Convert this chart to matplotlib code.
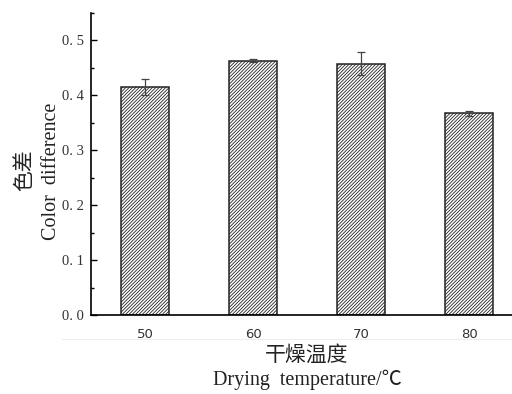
import matplotlib
import matplotlib.pyplot as plt
from matplotlib.ticker import MultipleLocator, FixedFormatter, FixedLocator

matplotlib.use("Agg")
plt.rcParams["hatch.color"] = "#5a5a5a"
plt.rcParams["hatch.linewidth"] = 0.6

# Color difference by drying temperature
temperatures = ["50", "60", "70", "80"]
color_diff = [0.415, 0.463, 0.458, 0.367]
color_err = [0.015, 0.003, 0.021, 0.004]
y_ticks = [0.0, 0.1, 0.2, 0.3, 0.4, 0.5]
y_tick_labels = ["0. 0", "0. 1", "0. 2", "0. 3", "0. 4", "0. 5"]

SERIF = ["Liberation Serif", "DejaVu Serif"]
CJK = ["Noto Sans CJK SC", "DejaVu Sans"]

fig = plt.figure(figsize=(5.12, 3.94), dpi=100)
ax = fig.add_axes([91 / 512, 1 - 315 / 394, 432 / 512, 302 / 394])

x = list(range(len(temperatures)))
ax.bar(
    x, color_diff, width=0.45, color="white", edgecolor="#222222",
    linewidth=1.1, hatch="//////////", zorder=2,
)
ax.errorbar(
    x, color_diff, yerr=color_err, fmt="none", ecolor="#444444",
    elinewidth=0.9, capsize=3, capthick=0.9, zorder=3,
)

ax.set_xlim(-0.5, 3.5)
ax.set_ylim(0, 0.55)
ax.spines["top"].set_visible(False)
ax.spines["right"].set_visible(False)
ax.spines["left"].set_linewidth(1.2)
ax.spines["bottom"].set_linewidth(1.2)

ax.xaxis.set_major_locator(FixedLocator(x))
ax.set_xticklabels(temperatures, fontsize=9.5, family="DejaVu Sans", color="#333333")
ax.yaxis.set_major_locator(FixedLocator(y_ticks))
ax.yaxis.set_major_formatter(FixedFormatter(y_tick_labels))
ax.yaxis.set_minor_locator(MultipleLocator(0.05))
ax.tick_params(axis="both", which="both", direction="in", width=1.0)
ax.tick_params(axis="y", which="major", length=4, labelsize=10.5, pad=5)
ax.tick_params(axis="y", which="minor", length=2.5)
ax.tick_params(axis="x", which="major", length=4, pad=9)
for lbl in ax.get_yticklabels():
    lbl.set_family(SERIF)
    lbl.set_color("#333333")

# faint rule under the tick labels
fig.add_artist(plt.Line2D([62 / 512, 1.0], [1 - 339 / 394] * 2,
                          color="#eeeeee", linewidth=0.8))

fig.text(307 / 512, 1 - 355 / 394, "干燥温度", ha="center", va="center",
         fontsize=15, family=CJK, color="#222222")
fig.text(307 / 512, 1 - 380 / 394, "Drying  temperature/℃", ha="center",
         va="center", fontsize=14.5, family=["Liberation Serif", "Noto Sans CJK SC"],
         color="#222222")
fig.text(24 / 512, 1 - 170 / 394, "色差", ha="center", va="center",
         rotation=90, fontsize=15, family=CJK, color="#222222")
fig.text(51 / 512, 1 - 171 / 394, "Color  difference", ha="center",
         va="center", rotation=90, fontsize=14.5, family=SERIF, color="#222222")

fig.savefig("out.png", dpi=100)
